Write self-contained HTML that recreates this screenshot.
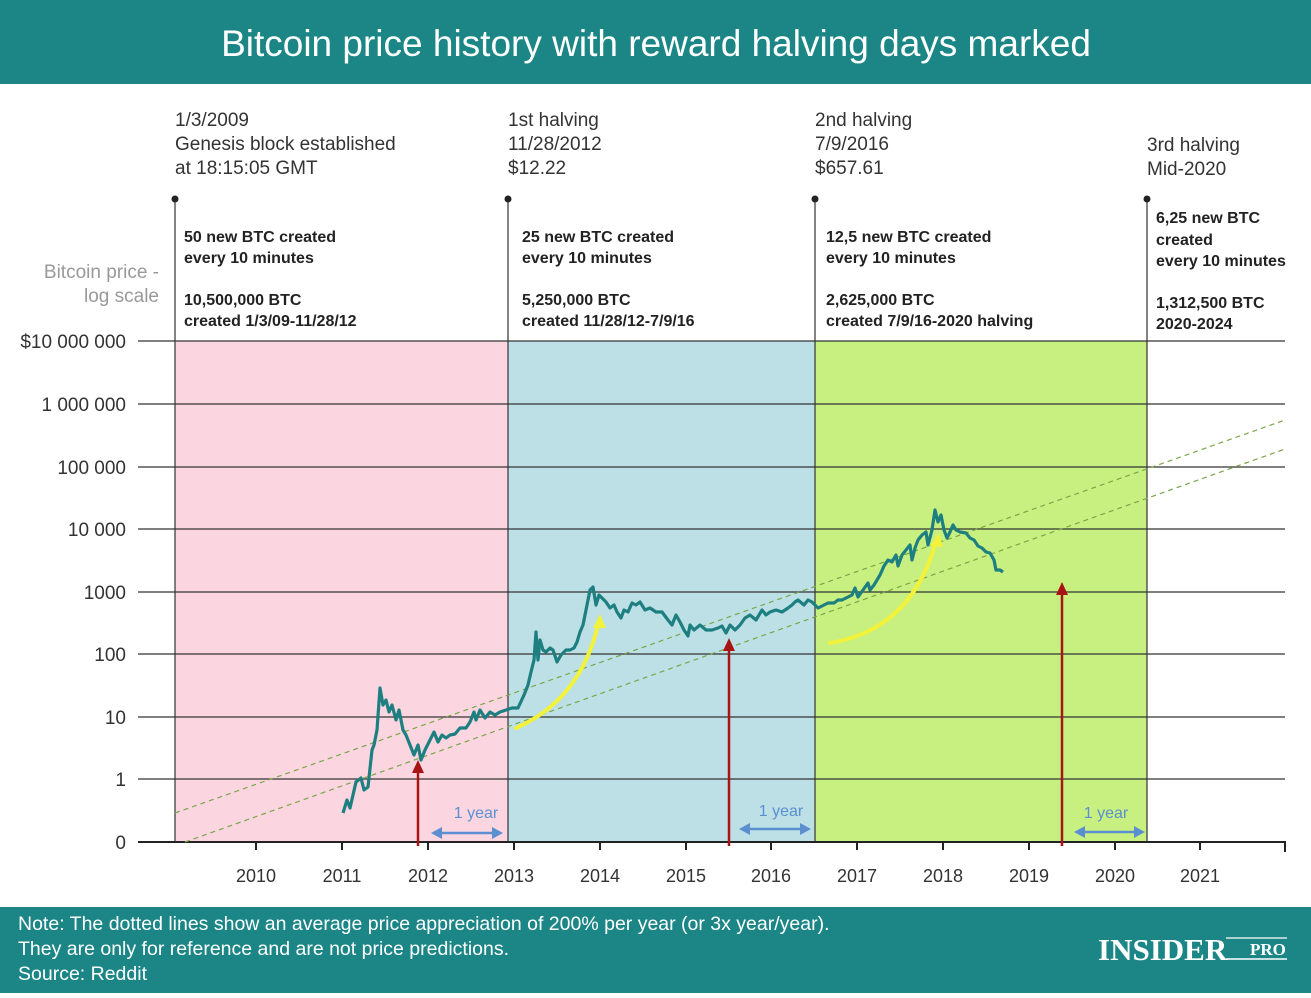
<!DOCTYPE html>
<html><head><meta charset="utf-8"><style>
body{margin:0;width:1311px;height:993px;overflow:hidden;background:#fff;font-family:"Liberation Sans",sans-serif}
</style></head><body>
<svg width="1311" height="993" xmlns="http://www.w3.org/2000/svg" font-family="Liberation Sans, sans-serif">
<rect x="0" y="0" width="1311" height="84" fill="#1c8687"/>
<text x="656" y="56" text-anchor="middle" fill="#fff" font-size="37">Bitcoin price history with reward halving days marked</text>
<rect x="175" y="341" width="333" height="501" fill="#fbd6e0"/>
<rect x="508" y="341" width="307" height="501" fill="#bde0e6"/>
<rect x="815" y="341" width="332" height="501" fill="#c8f081"/>
<g stroke="#333" stroke-width="1.2">
<line x1="138" y1="341" x2="1285" y2="341"/><line x1="138" y1="404" x2="1285" y2="404"/>
<line x1="138" y1="467" x2="1285" y2="467"/><line x1="138" y1="529" x2="1285" y2="529"/>
<line x1="138" y1="592" x2="1285" y2="592"/><line x1="138" y1="654" x2="1285" y2="654"/>
<line x1="138" y1="717" x2="1285" y2="717"/><line x1="138" y1="779" x2="1285" y2="779"/>
<line x1="175" y1="199" x2="175" y2="842"/><line x1="508" y1="199" x2="508" y2="842"/>
<line x1="815" y1="199" x2="815" y2="842"/><line x1="1147" y1="199" x2="1147" y2="842"/>
</g>
<line x1="138" y1="842" x2="1286" y2="842" stroke="#222" stroke-width="2"/>
<g stroke="#222" stroke-width="2">
<line x1="256" y1="842" x2="256" y2="850"/><line x1="342" y1="842" x2="342" y2="850"/><line x1="428" y1="842" x2="428" y2="850"/><line x1="514" y1="842" x2="514" y2="850"/><line x1="600" y1="842" x2="600" y2="850"/><line x1="686" y1="842" x2="686" y2="850"/><line x1="771" y1="842" x2="771" y2="850"/><line x1="857" y1="842" x2="857" y2="850"/><line x1="943" y1="842" x2="943" y2="850"/><line x1="1029" y1="842" x2="1029" y2="850"/><line x1="1115" y1="842" x2="1115" y2="850"/><line x1="1200" y1="842" x2="1200" y2="850"/><line x1="1285" y1="842" x2="1285" y2="852"/>
</g>
<g fill="#222"><circle cx="175" cy="199" r="3.5"/><circle cx="508" cy="199" r="3.5"/><circle cx="815" cy="199" r="3.5"/><circle cx="1147" cy="199" r="3.5"/></g>
<g font-size="18" fill="#333" text-anchor="middle">
<text x="256" y="882">2010</text><text x="342" y="882">2011</text><text x="428" y="882">2012</text><text x="514" y="882">2013</text><text x="600" y="882">2014</text><text x="686" y="882">2015</text><text x="771" y="882">2016</text><text x="857" y="882">2017</text><text x="943" y="882">2018</text><text x="1029" y="882">2019</text><text x="1115" y="882">2020</text><text x="1200" y="882">2021</text>
</g>
<g font-size="19" fill="#333" text-anchor="end">
<text x="126" y="348">$10 000 000</text><text x="126" y="411">1 000 000</text><text x="126" y="474">100 000</text><text x="126" y="536">10 000</text><text x="126" y="599">1000</text><text x="126" y="661">100</text><text x="126" y="724">10</text><text x="126" y="786">1</text><text x="126" y="849">0</text>
<text x="159" y="278" fill="#999">Bitcoin price -</text><text x="159" y="302" fill="#999">log scale</text>
</g>
<g font-size="19" fill="#333">
<text x="175" y="126">1/3/2009</text><text x="175" y="150">Genesis block established</text><text x="175" y="174">at 18:15:05 GMT</text>
<text x="508" y="126">1st halving</text><text x="508" y="150">11/28/2012</text><text x="508" y="174">$12.22</text>
<text x="815" y="126">2nd halving</text><text x="815" y="150">7/9/2016</text><text x="815" y="174">$657.61</text>
<text x="1147" y="151">3rd halving</text><text x="1147" y="175">Mid-2020</text>
</g>
<g font-size="16" fill="#222" font-weight="bold">
<text x="184" y="242">50 new BTC created</text><text x="184" y="263">every 10 minutes</text><text x="184" y="305">10,500,000 BTC</text><text x="184" y="326">created 1/3/09-11/28/12</text>
<text x="522" y="242">25 new BTC created</text><text x="522" y="263">every 10 minutes</text><text x="522" y="305">5,250,000 BTC</text><text x="522" y="326">created 11/28/12-7/9/16</text>
<text x="826" y="242">12,5 new BTC created</text><text x="826" y="263">every 10 minutes</text><text x="826" y="305">2,625,000 BTC</text><text x="826" y="326">created 7/9/16-2020 halving</text>
<text x="1156" y="223">6,25 new BTC</text><text x="1156" y="245">created</text><text x="1156" y="266">every 10 minutes</text><text x="1156" y="308">1,312,500 BTC</text><text x="1156" y="329">2020-2024</text>
</g>
<g stroke="#7aa64a" stroke-width="1.2" stroke-dasharray="5,4">
<line x1="175" y1="813" x2="1285" y2="420"/><line x1="185" y1="842" x2="1285" y2="449"/>
</g>
<polyline fill="none" stroke="#1e7f80" stroke-width="3.2" stroke-linejoin="round" points="343,813 347,800 350,808 356,782 361,778 364,790 368,787 372,750 374,745 377,730 380,688 383,705 386,700 389,712 392,705 396,720 399,710 403,730 406,735 410,745 414,755 418,745 421,760 425,750 430,740 434,732 438,742 442,735 446,738 450,735 455,734 460,728 466,728 470,722 474,712 476,720 480,710 485,718 490,712 495,715 500,712 506,710 512,708 518,708 524,695 528,685 531,672 534,660 536,632 538,660 540,640 543,650 546,652 550,648 553,650 557,662 561,655 566,650 570,650 574,648 577,642 580,632 583,625 586,610 590,590 593,587 596,605 599,595 602,598 606,602 610,608 614,605 617,612 621,618 624,610 628,612 632,603 636,605 640,602 645,610 650,608 656,612 662,612 668,620 672,625 676,615 680,622 684,630 688,636 690,625 694,630 700,625 706,630 712,630 718,628 722,626 726,633 730,625 735,630 740,625 745,618 750,615 756,620 762,610 766,615 770,612 776,610 782,612 788,608 792,605 795,602 798,600 804,605 808,600 812,602 818,608 824,605 828,603 834,603 838,600 842,600 846,598 852,595 855,588 858,597 863,590 868,583 870,590 874,585 880,575 884,566 888,560 892,562 896,555 898,566 902,555 906,550 910,545 912,560 915,548 918,540 922,535 926,532 928,545 932,530 935,510 938,522 941,515 944,530 947,538 950,532 953,525 956,530 960,532 966,533 970,538 974,540 978,546 982,548 986,552 990,553 994,560 996,570 1000,570 1003,572"/>
<g stroke="#f2f23a" stroke-width="4" fill="none" stroke-linecap="round">
<path d="M516,728 Q580,700 598,625"/><path d="M830,643 Q910,630 935,545"/>
</g>
<g fill="#f2f23a"><polygon points="600,614 593,628 606,628"/><polygon points="939,533 930,546 943,547"/></g>
<g stroke="#a81414" stroke-width="2.5"><line x1="418" y1="846" x2="418" y2="770"/><line x1="729" y1="846" x2="729" y2="648"/><line x1="1062" y1="846" x2="1062" y2="592"/></g>
<g fill="#a81414"><polygon points="418,760 412,773 424,773"/><polygon points="729,638 723,651 735,651"/><polygon points="1062,582 1056,595 1068,595"/></g>
<g stroke="#5b8fd0" stroke-width="2.5"><line x1="440" y1="833" x2="494" y2="833"/><line x1="748" y1="829" x2="802" y2="829"/><line x1="1083" y1="832" x2="1136" y2="832"/></g>
<g fill="#5b8fd0"><polygon points="431,833 442,827 442,839"/><polygon points="503,833 492,827 492,839"/><polygon points="739,829 750,823 750,835"/><polygon points="811,829 800,823 800,835"/><polygon points="1074,832 1085,826 1085,838"/><polygon points="1145,832 1134,826 1134,838"/></g>
<g font-size="16" fill="#5b8fd0" text-anchor="middle"><text x="476" y="818">1 year</text><text x="781" y="816">1 year</text><text x="1106" y="818">1 year</text></g>
<rect x="0" y="907" width="1311" height="86" fill="#1c8687"/>
<g font-size="19.5" fill="#fff"><text x="18" y="930">Note: The dotted lines show an average price appreciation of 200% per year (or 3x year/year).</text><text x="18" y="955">They are only for reference and are not price predictions.</text><text x="18" y="980">Source: Reddit</text></g>
<text x="1098" y="960" fill="#fff" font-family="Liberation Serif, serif" font-size="31" font-weight="bold">INSIDER</text>
<text x="1250" y="955" fill="#fff" font-family="Liberation Serif, serif" font-size="17" font-weight="bold">PRO</text>
<line x1="1226" y1="959" x2="1287" y2="959" stroke="#fff" stroke-width="1.5"/>
<line x1="1226" y1="938" x2="1287" y2="938" stroke="#fff" stroke-width="1.2"/>
</svg>
</body></html>
